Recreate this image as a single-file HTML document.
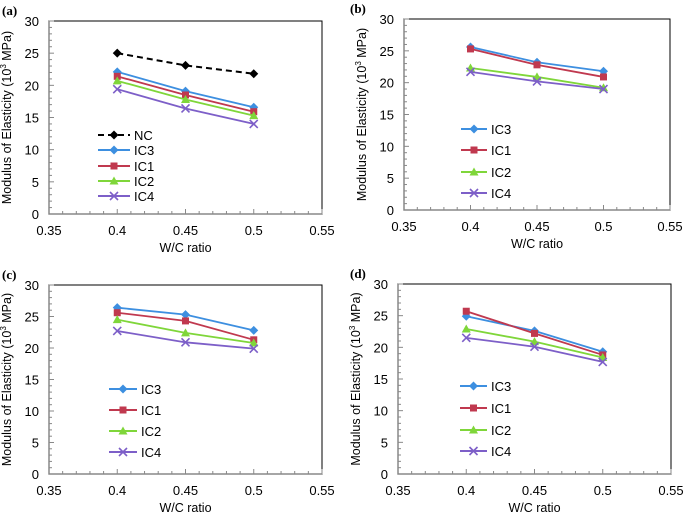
<!DOCTYPE html>
<html><head><meta charset="utf-8"><style>
body{margin:0;background:#fff;width:685px;height:520px;overflow:hidden}
svg{display:block;font-family:"Liberation Sans",sans-serif}
</style></head><body>
<svg id="chart" width="685" height="520"></svg>
<script>
const xVals=[0.4,0.45,0.5];
const xTicks=[0.35,0.4,0.45,0.5,0.55];
const yTicks=[0,5,10,15,20,25,30];
const seriesNames=["NC","IC3","IC1","IC2","IC4"];
const aNC=[25,23.1,21.8];
const aIC3=[22.1,19.1,16.6];
const aIC1=[21.4,18.5,15.9];
const aIC2=[20.7,17.8,15.3];
const aIC4=[19.4,16.4,14.0];
const bIC3=[25.6,23.2,21.8];
const bIC1=[25.3,22.8,20.9];
const bIC2=[22.3,20.9,19.2];
const bIC4=[21.7,20.2,19.0];
const cIC3=[26.4,25.3,22.8];
const cIC1=[25.6,24.3,21.3];
const cIC2=[24.5,22.4,20.8];
const cIC4=[22.7,20.9,19.9];
const dIC3=[24.9,22.6,19.3];
const dIC1=[25.7,22.2,18.8];
const dIC2=[22.9,20.9,18.4];
const dIC4=[21.5,20.1,17.7];

const NS="http://www.w3.org/2000/svg";
const svg=document.getElementById('chart');
const styles={NC:{c:"#000",m:"diamond",dash:"6,4"},IC3:{c:"#3d8fe0",m:"diamond"},IC1:{c:"#c0394f",m:"square"},IC2:{c:"#7fd63a",m:"triangle"},IC4:{c:"#7d5fc8",m:"x"}};
function mk(tag,attrs,parent){const e=document.createElementNS(NS,tag);for(const k in attrs)e.setAttribute(k,attrs[k]);(parent||svg).appendChild(e);return e;}
function marker(g,type,x,y,c){
  let e;
  if(type==="diamond")e=mk('polygon',{points:`${x},${y-4.5} ${x+4.5},${y} ${x},${y+4.5} ${x-4.5},${y}`,fill:c},g);
  else if(type==="square")e=mk('rect',{x:x-3.5,y:y-3.5,width:7,height:7,fill:c},g);
  else if(type==="triangle")e=mk('polygon',{points:`${x},${y-4.5} ${x+4.5},${y+3.5} ${x-4.5},${y+3.5}`,fill:c},g);
  else e=mk('path',{d:`M${x-4},${y-4}L${x+4},${y+4}M${x+4},${y-4}L${x-4},${y+4}`,stroke:c,'stroke-width':1.6,fill:'none'},g);
  
  
}
const panels=[
 {label:"(a)",lx:2,L:49,R:322,T:21,B:214,series:{NC:aNC,IC3:aIC3,IC1:aIC1,IC2:aIC2,IC4:aIC4},leg:{x1:98,x2:130,ys:[135,150,166,181,196]}},
 {label:"(b)",lx:350,L:404,R:670,T:19,B:210,series:{IC3:bIC3,IC1:bIC1,IC2:bIC2,IC4:bIC4},leg:{x1:461,x2:487,ys:[129,150,172,193]}},
 {label:"(c)",lx:2,L:49,R:322,T:285,B:474,series:{IC3:cIC3,IC1:cIC1,IC2:cIC2,IC4:cIC4},leg:{x1:109,x2:137,ys:[389,410,431,452]}},
 {label:"(d)",lx:350,L:398,R:671,T:284,B:474,series:{IC3:dIC3,IC1:dIC1,IC2:dIC2,IC4:dIC4},leg:{x1:460,x2:487,ys:[386,408,430,451]}}
];
panels.forEach((p,pi)=>{
  const g=mk('g',{});
  
  
  const xs=v=>p.L+(v-0.35)/0.2*(p.R-p.L);
  const ys=v=>p.B-v/30*(p.B-p.T);
  const pl=mk('text',{x:p.lx,y:p.T-6,'font-family':'Liberation Serif,serif','font-weight':'bold','font-size':13},g);
  pl.textContent=p.label;
  
  
  const fr=mk('rect',{x:p.L,y:p.T,width:p.R-p.L,height:p.B-p.T,fill:'none',stroke:'#000','stroke-width':1},g);
  
  
  mk('line',{x1:p.L,y1:p.T,x2:p.L,y2:p.B,stroke:'#888','stroke-width':1.5},g);
  mk('line',{x1:p.L,y1:p.B,x2:p.R,y2:p.B,stroke:'#888','stroke-width':1.5},g);
  for(let v=0;v<=30;v++){const y=ys(v);mk('line',{x1:p.L,x2:p.L+(v%5?3:5),y1:y,y2:y,stroke:'#888'},g);}
  for(let i=0;i<=20;i++){const x=p.L+i/20*(p.R-p.L);mk('line',{x1:x,x2:x,y1:p.B,y2:p.B-(i%5?3:5),stroke:'#888'},g);}
  yTicks.forEach(v=>{const t=mk('text',{x:p.L-10,y:ys(v)+5,'text-anchor':'end','font-size':13},g);t.textContent=v;
    
    });
  xTicks.forEach(v=>{const t=mk('text',{x:xs(v),y:p.B+21,'text-anchor':'middle','font-size':13},g);t.textContent=v;
    
    });
  const xt=mk('text',{x:(p.L+p.R)/2,y:p.B+38,'text-anchor':'middle','font-size':12.5},g);xt.textContent="W/C ratio";
  
  
  const cy=(p.T+p.B)/2, cx=p.L-38;
  const yt=mk('text',{x:cx,y:cy,'text-anchor':'middle','font-size':12.5,transform:`rotate(-90 ${cx} ${cy})`},g);
  yt.innerHTML='Modulus of Elasticity (10<tspan font-size="8" dy="-5">3</tspan><tspan dy="5"> MPa)</tspan>';
  
  
  Object.keys(p.series).forEach((name,si)=>{
    const st=styles[name], vals=p.series[name];
    const sg=mk('g',{},g);
    
    
    const pts=vals.map((v,i)=>xs(xVals[i])+','+ys(v)).join(' ');
    const ln=mk('polyline',{points:pts,fill:'none',stroke:st.c,'stroke-width':name==="NC"?2:1.8},sg);
    if(st.dash)ln.setAttribute('stroke-dasharray',st.dash);
    
    
    vals.forEach((v,i)=>marker(sg,st.m,xs(xVals[i]),ys(v),st.c));
    const ly=p.leg.ys[si];
    const lg=mk('g',{},g);
    
    
    const ll=mk('line',{x1:p.leg.x1,x2:p.leg.x2,y1:ly,y2:ly,stroke:st.c,'stroke-width':2},lg);
    if(st.dash)ll.setAttribute('stroke-dasharray',st.dash);
    marker(lg,st.m,(p.leg.x1+p.leg.x2)/2,ly,st.c);
    const lt=mk('text',{x:p.leg.x2+4,y:ly+5,'font-size':13},lg);lt.textContent=name;
  });
});
</script>
</body></html>
